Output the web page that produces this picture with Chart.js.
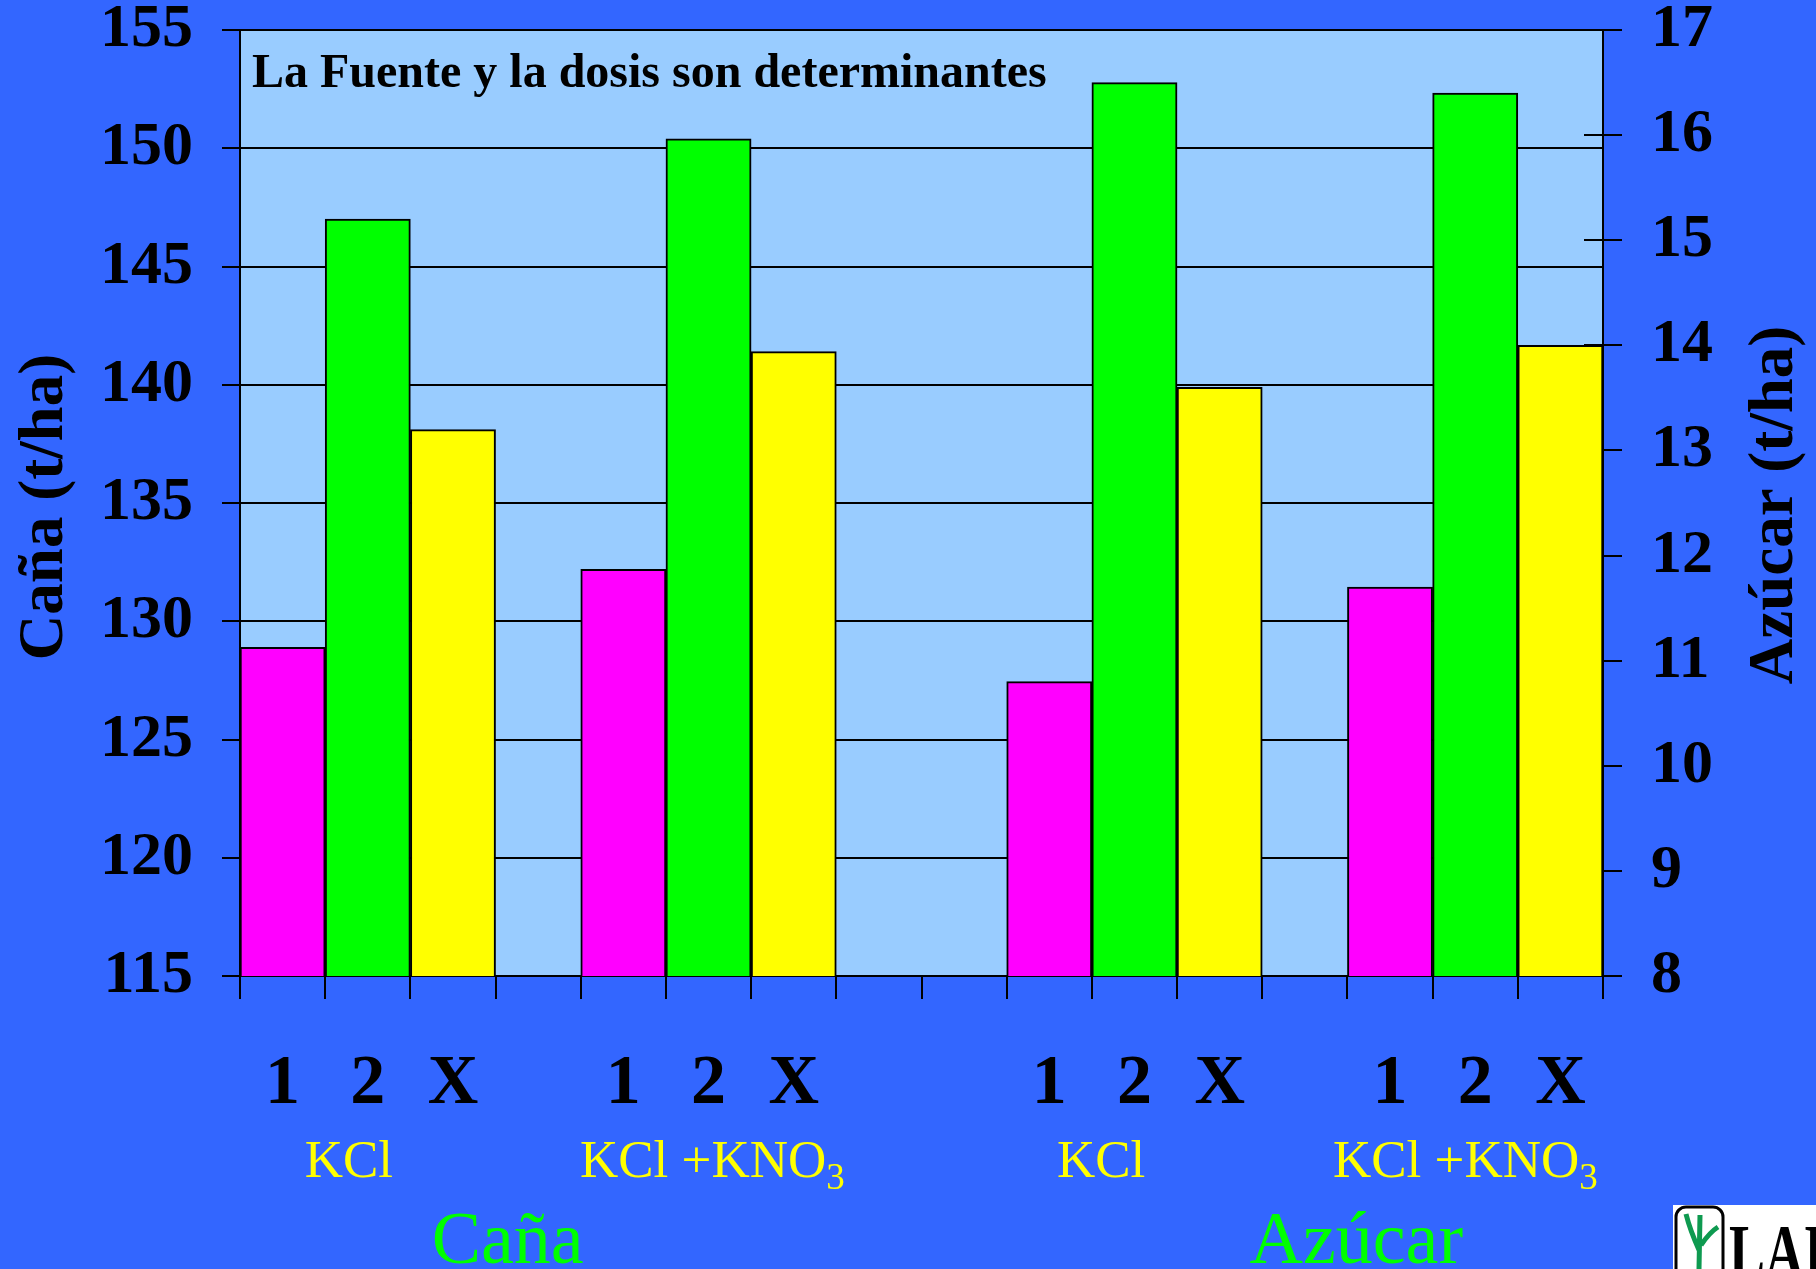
<!DOCTYPE html>
<html>
<head>
<meta charset="utf-8">
<script src="https://cdn.jsdelivr.net/npm/chart.js@4.4.1/dist/chart.umd.min.js"></script>
<style>
  html, body { margin: 0; padding: 0; background: #3366FF; overflow: hidden; }
  #wrap { width: 1816px; height: 1269px; position: relative; }
</style>
</head>
<body>
<div id="wrap"><canvas id="myCanvas"></canvas></div>
<script>
// slots along the x axis: 1, 2, X per fertiliser, blanks between groups
const slotLabels = ['1', '2', 'X', '', '1', '2', 'X', '', '', '1', '2', 'X', '', '1', '2', 'X'];

// Caña (t/ha), left axis
const canaKCl = [128.9, 147.0, 138.1];
const canaKClKNO3 = [132.2, 150.4, 141.4];
// Azúcar (t/ha), right axis
const azucarKCl = [10.8, 16.5, 13.6];
const azucarKClKNO3 = [11.7, 16.4, 14.0];

const doseColors = ['#FF00FF', '#00FF00', '#FFFF00'];

const leftTicks = { min: 115, max: 155, step: 5 };
const rightTicks = { min: 8, max: 17, step: 1 };

const serif = "'Liberation Serif', 'Times New Roman', serif";

// put the values into their slots
const canaData = [...canaKCl, null, ...canaKClKNO3, null, null, null, null, null, null, null, null, null];
const azucarData = [null, null, null, null, null, null, null, null, null, ...azucarKCl, null, ...azucarKClKNO3];
const barColors = slotLabels.map((l, i) => {
    const k = ['1', '2', 'X'].indexOf(l);
    return k >= 0 ? doseColors[k] : 'rgba(0,0,0,0)';
});

// texts under the axis: [text, subscript, start slot]
const fuenteLabels = [
    ['KCl', '', 0.26],
    ['KCl +KNO', '3', 3.49],
    ['KCl', '', 9.09],
    ['KCl +KNO', '3', 12.33]
];
const groupLabels = [
    ['Caña', 1.75],
    ['Azúcar', 11.35]
];

const decor = {
    id: 'decor',
    beforeDraw(chart) {
        const { ctx, chartArea: a } = chart;
        ctx.save();
        ctx.fillStyle = '#3366FF';
        ctx.fillRect(0, 0, chart.width, chart.height);
        ctx.fillStyle = '#99CCFF';
        ctx.fillRect(a.left, a.top, a.right - a.left, a.bottom - a.top);
        ctx.restore();
    },
    beforeDatasetsDraw(chart) {
        // right axis tick marks cross into the plot
        const { ctx, chartArea: a } = chart;
        const y1 = chart.scales.y1;
        ctx.save();
        ctx.strokeStyle = '#000';
        ctx.lineWidth = 2;
        y1.ticks.forEach(t => {
            const y = Math.round(y1.getPixelForValue(t.value));
            ctx.beginPath();
            ctx.moveTo(a.right - 19, y);
            ctx.lineTo(a.right, y);
            ctx.stroke();
        });
        ctx.restore();
    },
    afterDraw(chart) {
        const { ctx, chartArea: a } = chart;
        const x = chart.scales.x;
        ctx.save();

        // note inside plot
        ctx.fillStyle = '#000';
        ctx.font = 'bold 48px ' + serif;
        ctx.textBaseline = 'alphabetic';
        ctx.textAlign = 'left';
        ctx.fillText('La Fuente y la dosis son determinantes', a.left + 12, a.top + 57);

        // axis titles, both read bottom to top
        ctx.font = 'bold 63px ' + serif;
        ctx.textAlign = 'center';
        ctx.textBaseline = 'middle';
        const midY = (a.top + a.bottom) / 2;
        ctx.save();
        ctx.translate(46, midY + 4);
        ctx.rotate(-Math.PI / 2);
        ctx.fillText('Caña (t/ha)', 0, 0);
        ctx.restore();
        ctx.save();
        ctx.translate(1776, midY + 2);
        ctx.rotate(-Math.PI / 2);
        ctx.fillText('Azúcar (t/ha)', 0, 0);
        ctx.restore();

        // fertiliser labels
        ctx.textAlign = 'left';
        ctx.textBaseline = 'alphabetic';
        ctx.fillStyle = '#FFFF00';
        fuenteLabels.forEach(([txt, sub, pos]) => {
            const px = x.getPixelForValue(pos);
            const by = a.bottom + 201;
            ctx.font = '53px ' + serif;
            ctx.fillText(txt, px, by);
            if (sub) {
                const w = ctx.measureText(txt).width;
                ctx.font = '37px ' + serif;
                ctx.fillText(sub, px + w, by + 12);
            }
        });

        // group labels
        ctx.fillStyle = '#00FF00';
        ctx.font = '74px ' + serif;
        groupLabels.forEach(([txt, pos]) => {
            ctx.fillText(txt, x.getPixelForValue(pos), a.bottom + 287);
        });

        // logo corner
        ctx.fillStyle = '#FFFFFF';
        ctx.fillRect(1673, 1205, 143, 64);
        ctx.strokeStyle = '#000';
        ctx.lineWidth = 3;
        ctx.beginPath();
        ctx.roundRect(1676, 1207, 47, 90, 10);
        ctx.stroke();
        ctx.strokeStyle = '#0E9A50';
        ctx.lineWidth = 5;
        ctx.beginPath();
        ctx.moveTo(1699, 1269); ctx.lineTo(1700, 1215);
        ctx.moveTo(1699, 1250); ctx.quadraticCurveTo(1690, 1230, 1686, 1214);
        ctx.moveTo(1701, 1245); ctx.quadraticCurveTo(1710, 1232, 1718, 1227);
        ctx.stroke();
        ctx.fillStyle = '#000';
        ctx.font = 'bold 78px ' + serif;
        ctx.save();
        ctx.translate(1729, 1278);
        ctx.scale(0.69, 1);
        ctx.fillText('LAIC', 0, 0);
        ctx.restore();

        ctx.restore();
    }
};

const ctx = document.getElementById('myCanvas').getContext('2d');

let chart = new Chart(ctx, {
    type: 'bar',
    data: {
        labels: slotLabels,
        datasets: [{
            label: 'Caña',
            data: canaData,
            yAxisID: 'y',
            backgroundColor: barColors,
            borderColor: '#000',
            borderWidth: 2,
            grouped: false,
            barPercentage: 1,
            categoryPercentage: 1
        }, {
            label: 'Azúcar',
            data: azucarData,
            yAxisID: 'y1',
            backgroundColor: barColors,
            borderColor: '#000',
            borderWidth: 2,
            grouped: false,
            barPercentage: 1,
            categoryPercentage: 1
        }]
    },
    options: {
        responsive: true,
        maintainAspectRatio: false,
        animation: false,
        devicePixelRatio: 1,
        layout: { padding: { top: 30, left: 0, right: 0, bottom: 0 } },
        scales: {
            x: {
                afterFit: s => { s.height = 293; s.paddingLeft = 0; s.paddingRight = 0; },
                grid: { display: true, drawOnChartArea: false, drawTicks: true, tickLength: 23, color: '#000', lineWidth: 2 },
                border: { display: true, color: '#000', width: 2 },
                ticks: {
                    color: '#000', autoSkip: false, maxRotation: 0, padding: 51,
                    font: { family: serif, weight: 'bold', size: 70, lineHeight: 1 }
                }
            },
            y: {
                position: 'left',
                min: leftTicks.min, max: leftTicks.max,
                afterFit: s => { s.width = 240; s.paddingTop = 0; s.paddingBottom = 0; },
                grid: { color: '#000', lineWidth: 2, tickLength: 18 },
                border: { display: true, color: '#000', width: 2 },
                ticks: {
                    stepSize: leftTicks.step, color: '#000', padding: 29,
                    font: { family: serif, weight: 'bold', size: 62 }
                }
            },
            y1: {
                position: 'right',
                min: rightTicks.min, max: rightTicks.max,
                afterFit: s => { s.width = 213; s.paddingTop = 0; s.paddingBottom = 0; },
                grid: { drawOnChartArea: false, color: '#000', lineWidth: 2, tickLength: 19 },
                border: { display: true, color: '#000', width: 2 },
                ticks: {
                    stepSize: rightTicks.step, color: '#000', padding: 29,
                    font: { family: serif, weight: 'bold', size: 62 }
                }
            }
        },
        plugins: {
            legend: { display: false },
            tooltip: { enabled: false },
            title: { display: false }
        }
    },
    plugins: [decor]
});
</script>
</body>
</html>
